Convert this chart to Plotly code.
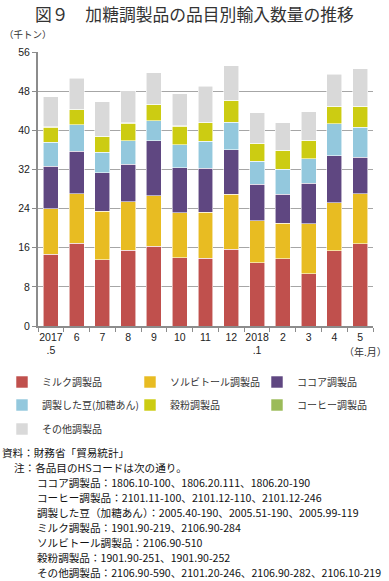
import plotly.graph_objects as go

# ---------------- data ----------------
months = ["2017<br>.5", "6", "7", "8", "9", "10", "11", "12", "2018<br>.1", "2", "3", "4", "5"]

milk     = [14.7, 16.9, 13.5, 15.5, 16.3, 13.9, 13.8, 15.7, 12.9, 13.7, 10.7, 15.4, 16.8]
sorbitol = [9.3, 10.1, 10.0, 9.9, 10.3, 9.2, 9.4, 11.2, 8.6, 7.3, 10.2, 9.8, 10.2]
cocoa    = [8.7, 8.7, 7.8, 7.7, 11.3, 9.2, 9.0, 9.1, 7.5, 5.9, 8.3, 9.6, 7.5]
beans    = [4.9, 5.4, 4.2, 4.8, 4.0, 4.7, 5.6, 5.6, 4.7, 5.1, 5.0, 6.5, 6.1]
flour    = [3.0, 3.1, 3.2, 3.5, 3.3, 3.8, 3.7, 4.4, 3.6, 3.8, 3.7, 3.5, 4.2]
coffee   = [0.1, 0.1, 0.1, 0.1, 0.1, 0.1, 0.1, 0.1, 0.1, 0.1, 0.1, 0.1, 0.1]
other    = [6.2, 6.3, 7.0, 6.6, 6.5, 6.6, 7.4, 7.1, 6.2, 5.6, 5.8, 6.6, 7.7]

series_names = ["ミルク調製品", "ソルビトール調製品", "ココア調製品",
                "調製した豆(加糖あん)", "穀粉調製品", "コーヒー調製品", "その他調製品"]
series_values = [milk, sorbitol, cocoa, beans, flour, coffee, other]
series_colors = ["#C0504D", "#E8BC22", "#5F4781", "#93C8DD", "#CCCC12", "#9BBB59", "#D9D9D9"]

y_ticks = [0, 8, 16, 24, 32, 40, 48, 56]

title_text = "図９　加糖調製品の品目別輸入数量の推移"
unit_text = "（千トン）"
xunit_text = "（年.月）"
notes = [
    ("資料：財務省「貿易統計」", 0),
    ("注：各品目のHSコードは次の通り。", 12),
    ("ココア調製品：1806.10-100、1806.20.111、1806.20-190", 35),
    ("コーヒー調製品：2101.11-100、2101.12-110、2101.12-246", 35),
    ("調製した豆（加糖あん）：2005.40-190、2005.51-190、2005.99-119", 35),
    ("ミルク調製品：1901.90-219、2106.90-284", 35),
    ("ソルビトール調製品：2106.90-510", 35),
    ("穀粉調製品：1901.90-251、1901.90-252", 35),
    ("その他調製品：2106.90-590、2101.20-246、2106.90-282、2106.10-219", 35),
]

# ---------------- layout geometry ----------------
W, H = 389, 581
L, R, T, B = 38, 16, 52, 255
PW = W - L - R
PH = H - T - B

def px_x(px):
    return (px - L) / PW

def px_y(py):
    return (H - B - py) / PH

FONT = "Liberation Sans, Arial, Noto Sans CJK JP, sans-serif"
JFONT = "Noto Sans CJK JP, sans-serif"

# legend item positions (pixels: left x of legend box, row centre y)
legend_pos = [(2, 382), (130, 382), (257, 382),
              (2, 405), (130, 405), (257, 405),
              (2, 429)]
legend_ids = ["legend"] + ["legend%d" % i for i in range(2, 8)]

fig = go.Figure()
for name, vals, col, lg in zip(series_names, series_values, series_colors, legend_ids):
    fig.add_trace(go.Bar(
        x=months, y=vals, name=name, legend=lg,
        marker=dict(color=col, line=dict(color="rgba(255,255,255,0.7)", width=0.8)),
    ))

legend_common = dict(
    orientation="h", xref="container", yref="container",
    xanchor="left", yanchor="middle", traceorder="normal",
    font=dict(family=JFONT, size=10, color="#333"),
    bgcolor="rgba(0,0,0,0)", itemclick=False, borderwidth=0,
)
legend_layout = {}
for lg, (lx, ly) in zip(legend_ids, legend_pos):
    legend_layout[lg] = dict(legend_common, x=lx / W, y=1 - ly / H)

fig.update_layout(
    width=W, height=H,
    margin=dict(l=L, r=R, t=T, b=B, autoexpand=False),
    paper_bgcolor="white", plot_bgcolor="white",
    barmode="stack", bargap=0.42,
    showlegend=True,
    **legend_layout,
    xaxis=dict(
        showline=True, linecolor="#8c8c8c", linewidth=2,
        ticks="outside", tickson="boundaries", ticklen=4, tickcolor="#8c8c8c",
        tickangle=0,
        tickfont=dict(family=FONT, size=10.5, color="#222"),
        showgrid=False,
    ),
    yaxis=dict(
        range=[0, 56], tickvals=y_ticks, ticktext=[str(v) for v in y_ticks],
        showline=True, linecolor="#8c8c8c", linewidth=2,
        showgrid=True, gridcolor="#a6a6a6", gridwidth=1,
        ticks="outside", ticklen=4, tickcolor="#8c8c8c",
        tickfont=dict(family=FONT, size=10.5, color="#222"),
        zeroline=False,
    ),
)

ann = []
ann.append(dict(text=title_text, xref="paper", yref="paper", x=px_x(194), y=px_y(14),
                xanchor="center", yanchor="middle", showarrow=False,
                font=dict(family=JFONT, size=16.8, color="#333")))
ann.append(dict(text=unit_text, xref="paper", yref="paper", x=px_x(2), y=px_y(34),
                xanchor="left", yanchor="middle", showarrow=False,
                font=dict(family=JFONT, size=9.5, color="#333")))
ann.append(dict(text=xunit_text, xref="paper", yref="paper", x=px_x(389), y=px_y(351),
                xanchor="right", yanchor="middle", showarrow=False,
                font=dict(family=JFONT, size=10, color="#333")))
for i, (txt, xo) in enumerate(notes):
    ann.append(dict(text=txt, xref="paper", yref="paper", x=px_x(xo), y=px_y(452 + 15.1 * i),
                    xanchor="left", yanchor="middle", showarrow=False,
                    font=dict(family=JFONT, size=10.6, color="#111")))
fig.update_layout(annotations=ann)

fig.write_html("out.html", config={"displayModeBar": False},
               post_script="document.body.style.margin='0';document.body.style.padding='0';")
